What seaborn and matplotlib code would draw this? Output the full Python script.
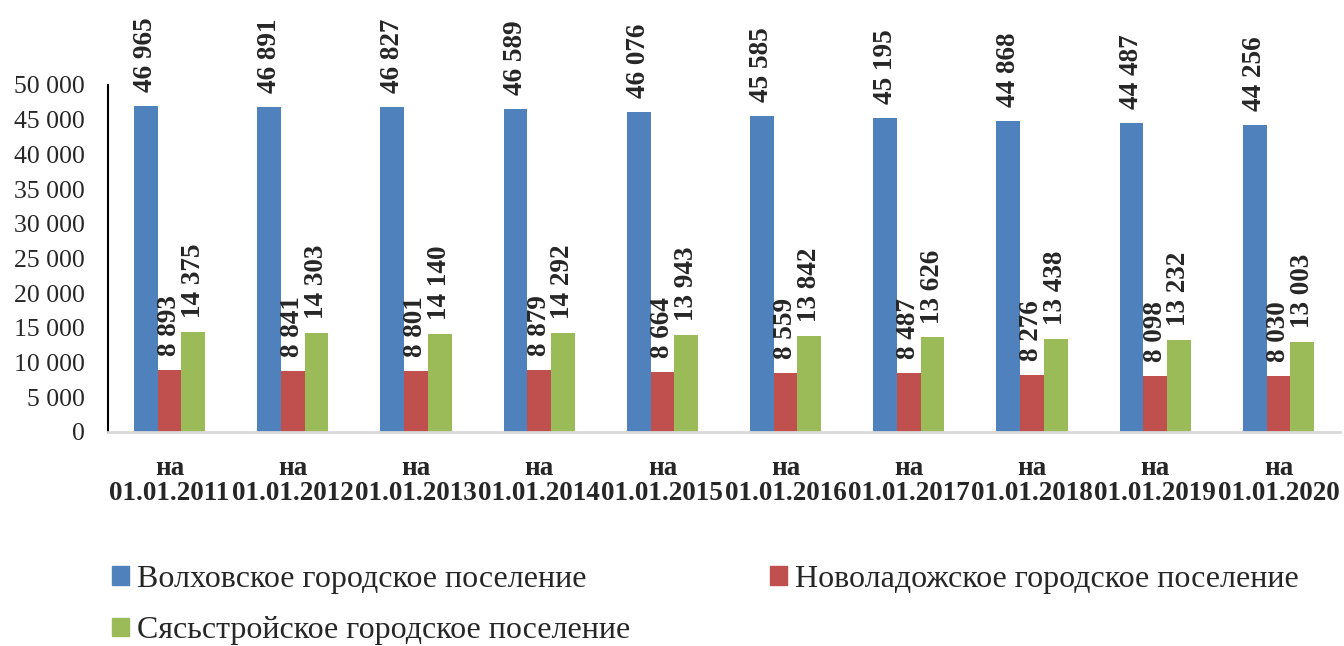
import matplotlib
matplotlib.use("Agg")
import matplotlib.pyplot as plt
import seaborn as sns
import pandas as pd

dates = ["на\n01.01.2011", "на\n01.01.2012", "на\n01.01.2013", "на\n01.01.2014", "на\n01.01.2015",
         "на\n01.01.2016", "на\n01.01.2017", "на\n01.01.2018", "на\n01.01.2019", "на\n01.01.2020"]
volkhov = [46965, 46891, 46827, 46589, 46076, 45585, 45195, 44868, 44487, 44256]
novoladoga = [8893, 8841, 8801, 8879, 8664, 8559, 8487, 8276, 8098, 8030]
syasstroy = [14375, 14303, 14140, 14292, 13943, 13842, 13626, 13438, 13232, 13003]
series_names = ["Волховское городское поселение",
                "Новоладожское городское поселение",
                "Сясьстройское городское поселение"]
colors = ["#4F81BD", "#C0504D", "#9BBB59"]

rows = []
for name, vals in zip(series_names, [volkhov, novoladoga, syasstroy]):
    for d, v in zip(dates, vals):
        rows.append({"date": d, "value": v, "series": name})
df = pd.DataFrame(rows)

sns.set_style("white")
plt.rcParams["font.family"] = ["Liberation Serif", "DejaVu Serif"]

fig = plt.figure(figsize=(13.44, 6.46), dpi=100)
ax = fig.add_axes([108 / 1344, 1 - 432 / 646, 1232 / 1344, 347 / 646])

sns.barplot(data=df, x="date", y="value", hue="series", palette=colors,
            saturation=1, width=0.577, linewidth=0, ax=ax, legend=False)

def fmt(v):
    return f"{int(v):,}".replace(",", " ")

for cont in ax.containers:
    ax.bar_label(cont, labels=[fmt(b.get_height()) for b in cont], rotation=90,
                 padding=10, fontsize=19.5, fontweight="bold", clip_on=False)

ax.set_ylim(0, 50000)
ax.set_yticks(range(0, 50001, 5000))
ax.set_yticklabels([fmt(t) for t in range(0, 50001, 5000)], fontsize=18.5)
ax.tick_params(axis="y", length=0, pad=17)
ax.tick_params(axis="x", length=0, pad=17, labelsize=19.5)
for lab in ax.get_xticklabels():
    lab.set_fontweight("bold")
    lab.set_linespacing(1.0)
ax.set_xlabel("")
ax.set_ylabel("")
ax.set_xlim(-0.5, 9.5)

for s in ["top", "right"]:
    ax.spines[s].set_visible(False)
ax.spines["left"].set_color("black")
ax.spines["left"].set_linewidth(1.5)
ax.spines["bottom"].set_color("#d9d9d9")
ax.spines["bottom"].set_linewidth(2)

# row-wise order: Волховское, Новоладожское / Сясьстройское
order = [0, 2, 1]
handles = [plt.Rectangle((0, 0), 1, 1, color=colors[i]) for i in order]
fig.legend(handles, [series_names[i] for i in order], ncol=2, loc="upper left",
           bbox_to_anchor=(112 / 1344, 1 - 565 / 646), frameon=False, borderpad=0,
           borderaxespad=0, fontsize=23, handlelength=0.52, handleheight=0.52,
           handletextpad=0.25, columnspacing=4.4, labelspacing=0.7)

fig.savefig("out.png", dpi=100)
